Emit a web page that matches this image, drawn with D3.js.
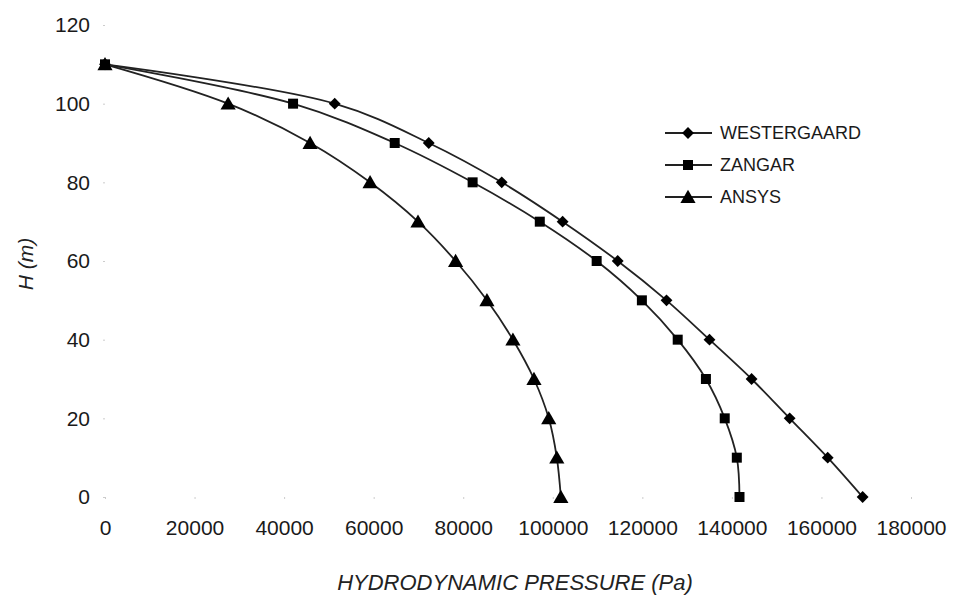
<!DOCTYPE html>
<html>
<head>
<meta charset="utf-8">
<script src="https://cdn.jsdelivr.net/npm/d3@7"></script>
<style>
  body { margin: 0; background: #fff; }
  svg { display: block; font-family: "Liberation Sans", Arial, sans-serif; }
</style>
</head>
<body>
<svg id="chart" width="955" height="598"></svg>
<script>
const heights = [110, 100, 90, 80, 70, 60, 50, 40, 30, 20, 10, 0];
const westergaard = [0, 51300, 72300, 88600, 102200, 114500, 125400, 135000, 144400, 152900, 161400, 169200];
const zangar = [0, 42000, 64700, 82100, 97100, 109800, 119900, 127900, 134200, 138400, 141100, 141700];
const ansys = [0, 27500, 45800, 59200, 69900, 78300, 85300, 91100, 95800, 99100, 100900, 101800];
const seriesNames = ["WESTERGAARD", "ZANGAR", "ANSYS"];
const xTicks = [0, 20000, 40000, 60000, 80000, 100000, 120000, 140000, 160000, 180000];
const yTicks = [0, 20, 40, 60, 80, 100, 120];

const svg = d3.select("#chart");
const x = d3.scaleLinear().domain([0, 180000]).range([105, 911]);
const y = d3.scaleLinear().domain([0, 120]).range([497, 25]);

const ink = "#1a1a1a";
const FONT = "Liberation Sans, Arial, sans-serif";

// x axis (no domain line, faint dot ticks)
const xAxis = svg.append("g").attr("transform", "translate(0,497)")
  .call(d3.axisBottom(x).tickValues(xTicks).tickFormat(d3.format("d")).tickSize(2).tickPadding(21));
xAxis.select(".domain").remove();
xAxis.selectAll(".tick line").attr("stroke", "#ccc");
xAxis.selectAll(".tick text").attr("font-size", 21).attr("fill", ink).attr("dy", "0.71em")
  .attr("font-family", FONT);

const yAxis = svg.append("g").attr("transform", "translate(105,0)")
  .call(d3.axisLeft(y).tickValues(yTicks).tickSize(2).tickPadding(13));
yAxis.select(".domain").remove();
yAxis.selectAll(".tick line").attr("stroke", "#ccc");
yAxis.selectAll(".tick text").attr("font-size", 21).attr("fill", ink)
  .attr("font-family", FONT);

// axis titles
svg.append("text").attr("x", 515).attr("y", 590).attr("text-anchor", "middle")
  .attr("font-size", 22).attr("font-style", "italic").attr("fill", "#222")
  .text("HYDRODYNAMIC PRESSURE (Pa)");
svg.append("text").attr("transform", "translate(33,264) rotate(-90)").attr("text-anchor", "middle")
  .attr("font-size", 21).attr("font-style", "italic").attr("fill", "#222")
  .text("H (m)");

const data = [westergaard, zangar, ansys];
const symbols = [d3.symbolSquare, d3.symbolSquare, d3.symbolTriangle];
const sizes = [70, 100, 100];
const rotations = [45, 0, 0];
const yOff = [0, 0, 1.5];
const drawOrder = [2, 0, 1];

const line = d3.line()
  .x(d => x(d.v)).y(d => y(d.h))
  .curve(d3.curveCatmullRom.alpha(0.5));

drawOrder.forEach(i => {
  const vals = data[i];
  const pts = vals.map((v, j) => ({ v, h: heights[j] }));
  svg.append("path").datum(pts).attr("d", line)
    .attr("fill", "none").attr("stroke", "#222").attr("stroke-width", 1.8);
  svg.append("g").selectAll("path").data(pts).join("path")
    .attr("transform", d => `translate(${x(d.v)},${y(d.h) + yOff[i]}) rotate(${rotations[i]})`)
    .attr("d", d3.symbol().type(symbols[i]).size(sizes[i]))
    .attr("fill", "#000");
});

// legend
const legend = svg.append("g");
const legendY = [133, 165, 197];
seriesNames.forEach((name, i) => {
  const ly = legendY[i];
  legend.append("line").attr("x1", 665).attr("x2", 712).attr("y1", ly).attr("y2", ly)
    .attr("stroke", "#222").attr("stroke-width", 1.8);
  legend.append("path").attr("transform", `translate(688,${ly + yOff[i]}) rotate(${rotations[i]})`)
    .attr("d", d3.symbol().type(symbols[i]).size(sizes[i])).attr("fill", "#000");
  legend.append("text").attr("x", 720).attr("y", ly).attr("dy", "0.35em")
    .attr("font-size", 18).attr("fill", ink).attr("font-family", FONT).text(name);
});
</script>
</body>
</html>
